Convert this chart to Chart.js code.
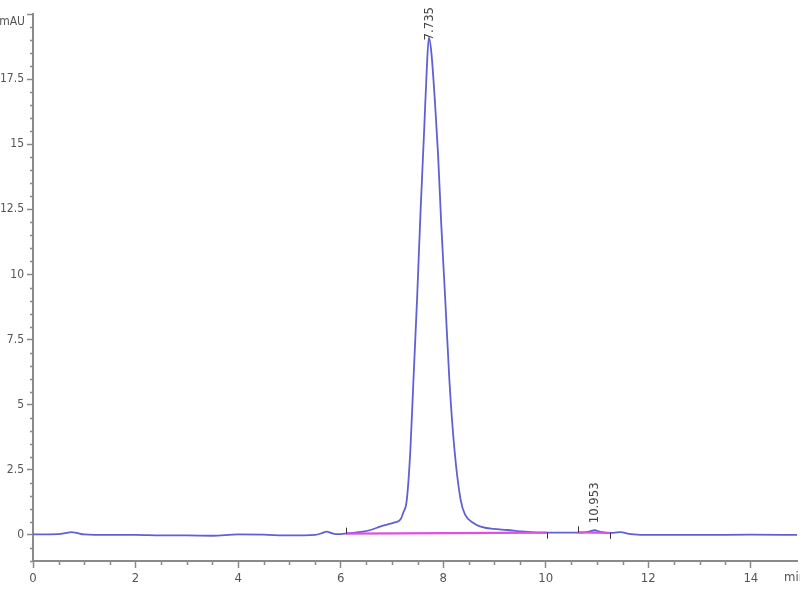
<!DOCTYPE html>
<html>
<head>
<meta charset="utf-8">
<script src="https://cdn.jsdelivr.net/npm/chart.js@4.4.1/dist/chart.umd.min.js"></script>
<style>
   body { margin: 0; background: #fff; }
   #wrap { width: 800px; height: 600px; }
</style>
</head>
<body>
<div id="wrap"><canvas id="cromatogramma" width="800" height="600"></canvas></div>
<script>
// tempi di ritenzione (min) e assorbanza (mAU)
var tempi = [0, 0.5, 0.65, 0.75, 0.85, 1.0, 1.5, 2.0, 2.5, 3.0, 3.5, 4.0, 4.5, 5.0, 5.5, 5.65, 5.72, 5.85,
   6.0, 6.13, 6.44, 6.6, 6.77, 6.91, 7.05, 7.17, 7.22, 7.29, 7.36, 7.42, 7.49, 7.56, 7.63, 7.68, 7.72,
   7.77, 7.84, 7.90, 7.96, 8.04, 8.12, 8.22, 8.34, 8.43, 8.59, 8.73, 8.98, 9.25, 9.5, 9.76, 10.0, 10.42, 10.7,
   10.85, 10.953, 11.05, 11.2, 11.32, 11.46, 11.6, 11.72, 12, 13, 14, 14.9];
var segnale = [0.02, 0.03, 0.08, 0.11, 0.08, 0.02, 0.0, 0.0, -0.02, -0.02, -0.03, 0.02, 0.01, -0.02, 0.0, 0.08, 0.13, 0.05,
   0.03, 0.06, 0.13, 0.2, 0.32, 0.4, 0.48, 0.6, 0.85, 1.35, 3.27, 5.96, 9.04, 12.5, 15.6, 17.9, 19.1,
   18.5, 16.6, 14.6, 12.0, 9.04, 5.96, 3.27, 1.35, 0.77, 0.46, 0.32, 0.23, 0.19, 0.14, 0.10, 0.09, 0.09, 0.09,
   0.13, 0.18, 0.13, 0.08, 0.08, 0.11, 0.05, 0.02, 0.0, 0.0, 0.01, 0.0];

// linea di base dell'integrazione (due tratti)
var baseTempi = [6.1, 10.02, null, 10.62, 11.26];
var baseValori = [0.05, 0.09, null, 0.1, 0.08];

// marcatori inizio/fine picco: +1 verso l'alto, -1 verso il basso
var marcaTempi = [6.1, 10.02, 10.62, 11.26];
var marcaValori = [0.05, 0.09, 0.1, 0.08];
var marcaDir = [1, -1, 1, -1];

// etichette dei picchi
var piccoTempi = [7.735, 10.953];
var piccoAltezze = [19.1, 0.18];
var piccoTesti = ['7.735', '10.953'];
var piccoScarto = [-3, 7];

var xMin = 0, xMax = 14.9;
var yMin = -1, yMax = 20;
var xPassoMaggiore = 2, yPassoMaggiore = 2.5, passoMinore = 0.5;

var fontTick = "'Liberation Sans Narrow', 'DejaVu Sans Condensed', 'Roboto', sans-serif";
var grigio = '#8a8a8a';

function isMaggiore(v, passo) {
   var r = Math.abs(v / passo - Math.round(v / passo));
   return r < 1e-6;
}

const puntiSegnale = tempi.map((t, i) => ({ x: t, y: segnale[i] }));
const puntiBase = baseTempi.map((t, i) => t === null ? { x: null, y: null } : { x: t, y: baseValori[i] });

const decorazioni = {
   id: 'decorazioni',
   afterDraw(chart) {
      const ctx = chart.ctx;
      const xs = chart.scales.x;
      const ys = chart.scales.y;
      const area = chart.chartArea;
      ctx.save();

      // tacche minori
      ctx.strokeStyle = grigio;
      ctx.lineWidth = 1.5;
      xs.ticks.forEach(t => {
         if (!isMaggiore(t.value, xPassoMaggiore) && isMaggiore(t.value, passoMinore)) {
            const px = Math.round(xs.getPixelForValue(t.value)) + 0.5;
            ctx.beginPath();
            ctx.moveTo(px, area.bottom);
            ctx.lineTo(px, area.bottom + 4);
            ctx.stroke();
         }
      });
      ys.ticks.forEach(t => {
         if (!isMaggiore(t.value, yPassoMaggiore) && isMaggiore(t.value, passoMinore)) {
            const py = Math.round(ys.getPixelForValue(t.value)) + 0.5;
            ctx.beginPath();
            ctx.moveTo(area.left - 3, py);
            ctx.lineTo(area.left, py);
            ctx.stroke();
         }
      });

      // marcatori inizio/fine integrazione
      ctx.strokeStyle = '#333';
      ctx.lineWidth = 1;
      marcaTempi.forEach((t, i) => {
         const px = Math.round(xs.getPixelForValue(t)) + 0.5;
         const py = ys.getPixelForValue(marcaValori[i]);
         ctx.beginPath();
         ctx.moveTo(px, py);
         ctx.lineTo(px, py - 6 * marcaDir[i]);
         ctx.stroke();
      });

      // etichette dei picchi, ruotate
      ctx.fillStyle = '#444';
      ctx.font = '13px ' + fontTick;
      ctx.textAlign = 'left';
      ctx.textBaseline = 'middle';
      piccoTempi.forEach((t, i) => {
         const px = xs.getPixelForValue(t);
         const py = ys.getPixelForValue(piccoAltezze[i]);
         ctx.save();
         ctx.translate(px, py - piccoScarto[i]);
         ctx.rotate(-Math.PI / 2);
         ctx.fillText(piccoTesti[i], 0, 0);
         ctx.restore();
      });

      // unità degli assi
      ctx.fillStyle = '#555';
      ctx.font = '12px ' + fontTick;
      ctx.textAlign = 'right';
      ctx.textBaseline = 'middle';
      ctx.fillText('mAU', area.left - 8, area.top + 8);
      ctx.textAlign = 'left';
      ctx.font = '13px ' + fontTick;
      ctx.fillText('min', area.right - 13, area.bottom + 17);
      ctx.restore();
   }
};

const ctx = document.getElementById('cromatogramma').getContext('2d');
const grafico = new Chart(ctx, {
   type: 'line',
   data: {
      datasets: [{
         label: 'segnale',
         data: puntiSegnale,
         borderColor: '#6060d4',
         borderWidth: 1.8,
         pointRadius: 0,
         fill: false,
         cubicInterpolationMode: 'monotone',
         order: 2
      }, {
         label: 'linea di base',
         data: puntiBase,
         borderColor: '#e050e0',
         borderWidth: 2.2,
         pointRadius: 0,
         fill: false,
         spanGaps: false,
         order: 1
      }]
   },
   options: {
      responsive: false,
      animation: false,
      layout: { padding: { top: 14, right: 3, left: 0, bottom: 0 } },
      plugins: {
         legend: { display: false },
         tooltip: { enabled: false }
      },
      scales: {
         x: {
            type: 'linear',
            min: xMin,
            max: xMax,
            afterFit: s => { s.height = 39; },
            border: { color: grigio, width: 2 },
            grid: {
               drawOnChartArea: false,
               tickLength: 7,
               tickWidth: 1.5,
               tickColor: c => isMaggiore(c.tick.value, xPassoMaggiore) ? grigio : 'rgba(0,0,0,0)'
            },
            ticks: {
               stepSize: passoMinore,
               autoSkip: false,
               maxRotation: 0,
               padding: 3,
               color: '#555',
               font: { family: fontTick, size: 13 },
               callback: v => isMaggiore(v, xPassoMaggiore) ? String(v) : ''
            }
         },
         y: {
            type: 'linear',
            min: yMin,
            max: yMax,
            afterFit: s => { s.width = 33; },
            border: { color: grigio, width: 2 },
            grid: {
               drawOnChartArea: false,
               tickLength: 6,
               tickWidth: 1.5,
               tickColor: c => isMaggiore(c.tick.value, yPassoMaggiore) ? grigio : 'rgba(0,0,0,0)'
            },
            ticks: {
               stepSize: passoMinore,
               autoSkip: false,
               padding: 3,
               color: '#555',
               font: { family: fontTick, size: 12 },
               callback: v => (isMaggiore(v, yPassoMaggiore) && v !== yMax) ? String(v) : ''
            }
         }
      }
   },
   plugins: [decorazioni]
});
</script>
</body>
</html>
